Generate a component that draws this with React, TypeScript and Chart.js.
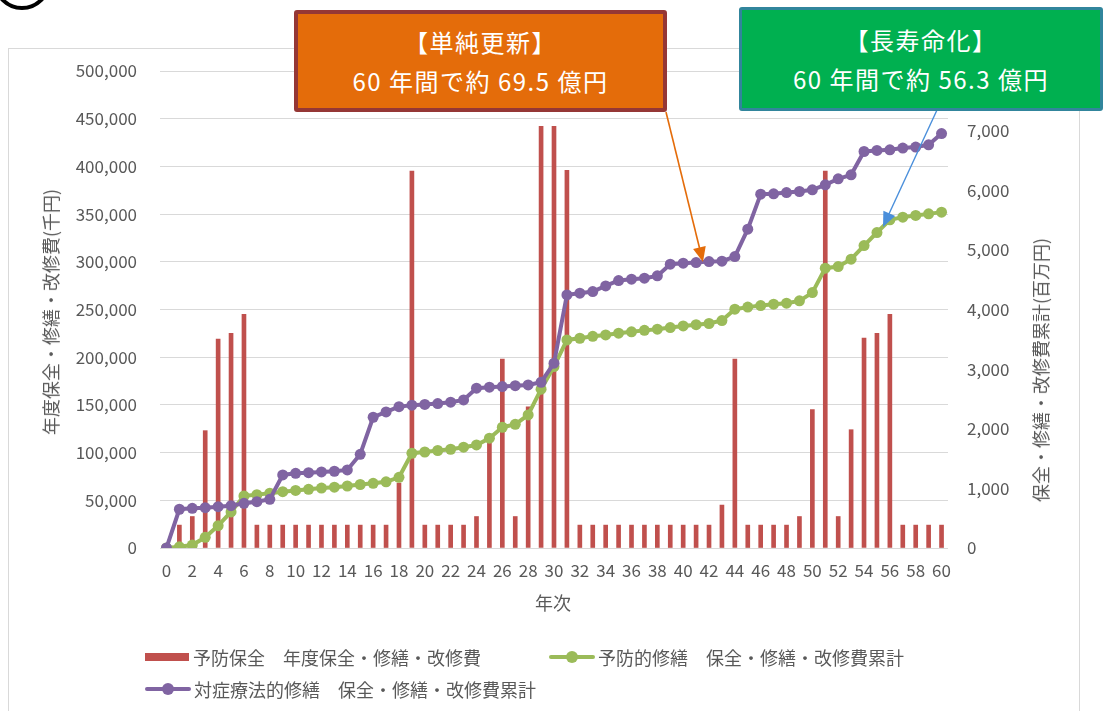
import React, { useEffect, useRef } from "react";
import { Chart, registerables } from "chart.js";

Chart.register(...registerables);

const years = [
  "0", "1", "2", "3", "4", "5", "6", "7", "8", "9", "10",
  "11", "12", "13", "14", "15", "16", "17", "18", "19", "20",
  "21", "22", "23", "24", "25", "26", "27", "28", "29", "30",
  "31", "32", "33", "34", "35", "36", "37", "38", "39", "40",
  "41", "42", "43", "44", "45", "46", "47", "48", "49", "50",
  "51", "52", "53", "54", "55", "56", "57", "58", "59", "60",
];

// 予防保全 年度保全・修繕・改修費 (千円)
const annualCost = [
  0, 24000, 33000, 123000, 219000, 225000, 245000, 24000, 24000, 24000, 24000,
  24000, 24000, 24000, 24000, 24000, 24000, 24000, 68000, 395000, 24000,
  24000, 24000, 24000, 33000, 113000, 198000, 33000, 148000, 442000, 442000,
  396000, 24000, 24000, 24000, 24000, 24000, 24000, 24000, 24000, 24000,
  24000, 24000, 45000, 198000, 24000, 24000, 24000, 24000, 33000, 145000,
  395000, 33000, 124000, 220000, 225000, 245000, 24000, 24000, 24000, 24000,
];

// 予防的修繕 保全・修繕・改修費累計 (百万円)
const preventiveCumulative = [
  0, 20, 50, 179, 375, 605, 872, 895, 920, 945, 965,
  985, 1005, 1020, 1040, 1065, 1085, 1110, 1186, 1589, 1610,
  1635, 1656, 1690, 1728, 1841, 2025, 2075, 2232, 2663, 3043,
  3490, 3518, 3550, 3574, 3602, 3625, 3650, 3669, 3697, 3725,
  3745, 3765, 3815, 4005, 4040, 4066, 4089, 4106, 4145, 4284,
  4693, 4720, 4844, 5073, 5291, 5504, 5549, 5577, 5604, 5633,
];

// 対症療法的修繕 保全・修繕・改修費累計 (百万円)
const reactiveCumulative = [
  0, 650, 666, 676, 693, 710, 750, 777, 817, 1225, 1253,
  1264, 1275, 1287, 1309, 1572, 2193, 2282, 2371, 2395, 2408,
  2422, 2445, 2483, 2680, 2697, 2707, 2723, 2735, 2780, 3099,
  4245, 4274, 4301, 4396, 4486, 4508, 4525, 4564, 4760, 4777,
  4787, 4804, 4810, 4888, 5347, 5935, 5940, 5962, 5979, 6007,
  6091, 6192, 6259, 6650, 6667, 6678, 6707, 6724, 6762, 6950,
];

const legendLabels = [
  "予防保全　年度保全・修繕・改修費",
  "予防的修繕　保全・修繕・改修費累計",
  "対症療法的修繕　保全・修繕・改修費累計",
];

const leftTitle = "年度保全・修繕・改修費(千円)";
const rightTitle = "保全・修繕・改修費累計(百万円)";
const xTitle = "年次";

const FONT = '"Noto Sans CJK JP", "Noto Sans", sans-serif';
const TICK = "#595959";
const RED = "#C0504D";
const GREEN = "#9BBB59";
const PURPLE = "#8064A2";

function arrowHead(x1: number, y1: number, x2: number, y2: number, len: number, half: number) {
  const dx = x2 - x1;
  const dy = y2 - y1;
  const d = Math.hypot(dx, dy);
  const ux = dx / d;
  const uy = dy / d;
  const bx = x2 - ux * len;
  const by = y2 - uy * len;
  const px = -uy * half;
  const py = ux * half;
  return `${x2},${y2} ${bx + px},${by + py} ${bx - px},${by - py}`;
}

function LineSymbol({ color }: { color: string }) {
  return (
    <div style={{ position: "relative", width: 46, height: 12 }}>
      <div style={{ position: "absolute", left: 0, top: 4, width: 46, height: 4, background: color, borderRadius: 2 }} />
      <div style={{ position: "absolute", left: 17, top: 0, width: 12, height: 12, background: color, borderRadius: "50%" }} />
    </div>
  );
}

export default function App() {
  const ref = useRef<HTMLCanvasElement>(null);

  useEffect(() => {
    const fmt = (v: number | string) => Number(v).toLocaleString("en-US");
    const chart = new Chart(ref.current as HTMLCanvasElement, {
      type: "bar",
      data: {
        labels: years,
        datasets: [
          {
            type: "bar",
            label: legendLabels[0],
            data: annualCost,
            backgroundColor: RED,
            barThickness: 4,
            yAxisID: "y",
            order: 2,
          },
          {
            type: "line",
            label: legendLabels[1],
            data: preventiveCumulative,
            borderColor: GREEN,
            backgroundColor: GREEN,
            pointBackgroundColor: GREEN,
            pointBorderWidth: 0,
            pointRadius: 5.5,
            borderWidth: 4,
            tension: 0,
            yAxisID: "y1",
            order: 1,
          },
          {
            type: "line",
            label: legendLabels[2],
            data: reactiveCumulative,
            borderColor: PURPLE,
            backgroundColor: PURPLE,
            pointBackgroundColor: PURPLE,
            pointBorderWidth: 0,
            pointRadius: 5.5,
            borderWidth: 4,
            tension: 0,
            yAxisID: "y1",
            order: 0,
          },
        ],
      },
      options: {
        responsive: false,
        animation: false,
        devicePixelRatio: 1,
        layout: { padding: { top: 71, bottom: 123, left: 0, right: 0 } },
        plugins: { legend: { display: false }, tooltip: { enabled: false } },
        scales: {
          x: {
            offset: true,
            grid: { display: false, drawTicks: false },
            border: { display: false },
            ticks: {
              autoSkip: false,
              maxRotation: 0,
              minRotation: 0,
              padding: 12,
              color: TICK,
              font: { family: FONT, size: 17 },
              callback: (_v: any, i: number) => (i % 2 === 0 ? years[i] : ""),
            },
            afterFit: (s: any) => {
              s.height = 40;
            },
          },
          y: {
            position: "left",
            min: 0,
            max: 500000,
            ticks: {
              stepSize: 50000,
              padding: 23,
              color: TICK,
              font: { family: FONT, size: 17 },
              callback: (v: any) => fmt(v),
            },
            grid: { color: "#D9D9D9", lineWidth: 1, drawTicks: false },
            border: { display: false },
            afterFit: (s: any) => {
              s.width = 160;
            },
          },
          y1: {
            position: "right",
            min: 0,
            max: 8000,
            ticks: {
              stepSize: 1000,
              padding: 19,
              color: TICK,
              font: { family: FONT, size: 17 },
              callback: (v: any) => (Number(v) === 8000 ? "" : fmt(v)),
            },
            grid: { display: false, drawTicks: false },
            border: { display: false },
            afterFit: (s: any) => {
              s.width = 157;
            },
          },
        },
      },
    } as any);
    return () => chart.destroy();
  }, []);

  const rot: React.CSSProperties = {
    position: "absolute",
    transform: "translate(-50%, -50%) rotate(-90deg)",
    whiteSpace: "nowrap",
    fontSize: 18,
    color: TICK,
  };

  const box = (bg: string, border: string): React.CSSProperties => ({
    position: "absolute",
    boxSizing: "border-box",
    background: bg,
    border: `4px solid ${border}`,
    borderRadius: 3,
    color: "#fff",
    fontSize: 24,
    lineHeight: "39px",
    letterSpacing: "1.5px",
    display: "flex",
    flexDirection: "column",
    alignItems: "center",
    justifyContent: "center",
    whiteSpace: "nowrap",
  });

  return (
    <div
      style={{
        position: "absolute",
        left: 0,
        top: 0,
        width: 1105,
        height: 711,
        overflow: "hidden",
        background: "#fff",
        fontFamily: FONT,
      }}
    >
      <div
        style={{
          position: "absolute",
          left: -7,
          top: -48,
          width: 50,
          height: 50,
          border: "4px solid #000",
          borderRadius: "50%",
        }}
      />
      <div
        style={{
          position: "absolute",
          left: 8,
          top: 48,
          width: 1070,
          height: 700,
          border: "1px solid #D9D9D9",
        }}
      />
      <canvas ref={ref} width={1105} height={711} style={{ position: "absolute", left: 0, top: 0, width: 1105, height: 711 }} />

      <div style={{ ...rot, left: 50, top: 312 }}>{leftTitle}</div>
      <div style={{ ...rot, left: 1040, top: 370 }}>{rightTitle}</div>
      <div style={{ position: "absolute", left: 553, top: 602, transform: "translate(-50%, -50%)", fontSize: 18, color: TICK }}>
        {xTitle}
      </div>

      {/* legend */}
      <div style={{ position: "absolute", left: 145, top: 657, transform: "translateY(-50%)", display: "flex", alignItems: "center", fontSize: 18, color: TICK, whiteSpace: "nowrap" }}>
        <div style={{ width: 44, height: 8, background: RED, marginRight: 4 }} />
        <span>{legendLabels[0]}</span>
      </div>
      <div style={{ position: "absolute", left: 549, top: 657, transform: "translateY(-50%)", display: "flex", alignItems: "center", fontSize: 18, color: TICK, whiteSpace: "nowrap" }}>
        <LineSymbol color={GREEN} />
        <span style={{ marginLeft: 3 }}>{legendLabels[1]}</span>
      </div>
      <div style={{ position: "absolute", left: 145, top: 689, transform: "translateY(-50%)", display: "flex", alignItems: "center", fontSize: 18, color: TICK, whiteSpace: "nowrap" }}>
        <LineSymbol color={PURPLE} />
        <span style={{ marginLeft: 3 }}>{legendLabels[2]}</span>
      </div>

      {/* arrows */}
      <svg width={1105} height={711} style={{ position: "absolute", left: 0, top: 0, pointerEvents: "none" }}>
        <line x1={666} y1={112} x2={700} y2={250} stroke="#E46C0A" strokeWidth={1.6} />
        <polygon points={arrowHead(666, 112, 703, 262, 15, 6.5)} fill="#E46C0A" />
        <line x1={937} y1={110} x2={888} y2={216} stroke="#4A8FDB" strokeWidth={1.4} />
        <polygon points={arrowHead(937, 110, 883, 227, 15, 6.5)} fill="#4A8FDB" />
      </svg>

      {/* callout boxes */}
      <div style={{ ...box("#E46C0A", "#953735"), left: 294, top: 10, width: 373, height: 102 }}>
        <div>【単純更新】</div>
        <div>60 年間で約 69.5 億円</div>
      </div>
      <div style={{ ...box("#00B050", "#31859C"), left: 739, top: 7, width: 364, height: 104, borderWidth: 3 }}>
        <div>【長寿命化】</div>
        <div>60 年間で約 56.3 億円</div>
      </div>
    </div>
  );
}
